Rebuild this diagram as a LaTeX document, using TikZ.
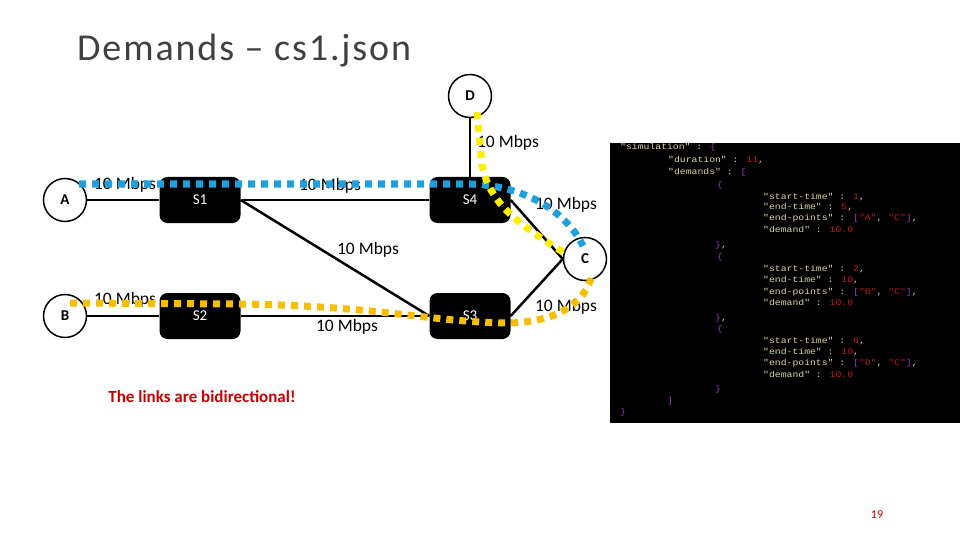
\documentclass[tikz,border=0pt]{standalone}
\usepackage{fontspec}
\setmainfont{Carlito}
\newfontfamily\codefont[FakeStretch=1.15]{Liberation Mono}
\newfontfamily\titlefont[LetterSpace=5]{Carlito}
\usepackage{tikz}
\usetikzlibrary{arrows.meta, calc}

\definecolor{linkblue}{RGB}{30,160,220}
\definecolor{linkyellow}{RGB}{255,238,0}
\definecolor{linkorange}{RGB}{245,190,0}
\definecolor{keycol}{RGB}{222,214,160}
\definecolor{numcol}{RGB}{190,30,30}
\definecolor{brcol}{RGB}{150,60,190}
\definecolor{slidered}{RGB}{200,0,0}

\newcommand{\jk}[1]{\textcolor{keycol}{#1}}
\newcommand{\jn}[1]{\textcolor{numcol}{#1}}
\newcommand{\jb}[1]{\textcolor{brcol}{#1}}

\tikzset{
	host/.style={circle, draw, line width=1.5pt, minimum size=43pt, inner sep=0pt, font=\fontsize{15}{18}\selectfont\bfseries},
	switch/.style={rectangle, rounded corners=8pt, fill=black, minimum width=81pt, minimum height=46pt, text=white, font=\fontsize{15}{18}\selectfont},
	wire/.style={line width=2.5pt},
	rate/.style={font=\fontsize{17.5}{20}\selectfont, inner sep=0pt},
	demand/.style={line width=7pt, dash pattern=on 7pt off 6pt},
	codeline/.style={anchor=base west, inner sep=0pt, font=\codefont\fontsize{8.5}{10}\selectfont, text=keycol}
}

\begin{document}
\begin{tikzpicture}[x=1pt, y=-1pt]
		
		\useasboundingbox (0,0) rectangle (960,540);
		
		% title
		\node[anchor=base west, inner sep=0pt, text=black!75, font=\titlefont\fontsize{38}{42}\selectfont] (title) at (77, 61) {Demands – cs1.json};
		
		% hosts
		\node[host] (A) at (65, 200) {A};
		\node[host] (B) at (65, 316) {B};
		\node[host] (C) at (585, 259) {C};
		\node[host] (D) at (470, 96) {D};
		
		% switches
		\node[switch] (S1) at (200, 200) {S1};
		\node[switch] (S2) at (200, 316) {S2};
		\node[switch] (S3) at (470, 316) {S3};
		\node[switch] (S4) at (470, 200) {S4};
		
		% links
		\draw[wire] (A) -- (S1);
		\draw[wire] (B) -- (S2);
		\draw[wire] (S1) -- (S4);
		\draw[wire] (S2) -- (S3);
		\draw[wire] (S1.east) -- (S3.west);
		\draw[wire] (D) -- (S4);
		\draw[wire] (S4.east) -- (C.west);
		\draw[wire] (S3.east) -- (C.west);
		
		% link capacities
		\node[rate] (rAS1) at (125, 185) {10 Mbps};
		\node[rate] (rBS2) at (125, 300) {10 Mbps};
		\node[rate] (rS1S4) at (330, 186) {10 Mbps};
		\node[rate] (rS1S3) at (368, 250) {10 Mbps};
		\node[rate] (rS2S3) at (347, 327) {10 Mbps};
		\node[rate] (rDS4) at (508, 143) {10 Mbps};
		\node[rate] (rS4C) at (566, 205) {10 Mbps};
		\node[rate] (rS3C) at (566, 307) {10 Mbps};
		
		% demand paths
		\coordinate (pA) at (79, 184);
		\coordinate (pB) at (70, 303);
		\coordinate (pD) at (477, 112);
		\coordinate (pC1) at (583, 246);
		\coordinate (pC2) at (566, 254);
		\coordinate (pC3) at (592, 275);
		\begin{scope}[demand]
			% A -> C
			\draw[linkblue] (pA) -- (470, 184) .. controls (530, 186) and (568, 215) .. (pC1);
			% D -> C
			\draw[linkyellow] (pD) -- (482, 165) .. controls (490, 205) and (520, 225) .. (pC2);
			% B -> C
			\draw[linkorange] (pB) -- (240, 304) .. controls (380, 306) and (430, 322) .. (508, 323) .. controls (562, 322) and (586, 300) .. (pC3);
		\end{scope}
		
		\node[text=slidered, font=\fontsize{17}{20}\selectfont\bfseries] (note) at (202, 397) {The links are bidirectional!};
		
		% cs1.json
		\fill[black] (610, 143) rectangle (960, 423);
		\node[codeline] (l1) at (620, 150) {"simulation" : \jb{\{}};
		\node[codeline] (l2) at (668, 163) {"duration" : \jn{11},};
		\node[codeline] (l3) at (668, 175) {"demands" : \jb{[}};
		\node[codeline] (l4) at (717, 187) {\jb{\{}};
		\node[codeline] (l5) at (763, 199) {"start-time" : \jn{1},};
		\node[codeline] (l6) at (763, 209) {"end-time" : \jn{5},};
		\node[codeline] (l7) at (763, 220) {"end-points" : \jb{[}\jn{"A"}, \jn{"C"}\jb{]},};
		\node[codeline] (l8) at (763, 232) {"demand" : \jn{10.0}};
		\node[codeline] (l9) at (715, 247) {\jb{\}},};
		\node[codeline] (l10) at (717, 259) {\jb{\{}};
		\node[codeline] (l11) at (763, 271) {"start-time" : \jn{2},};
		\node[codeline] (l12) at (763, 282) {"end-time" : \jn{10},};
		\node[codeline] (l13) at (763, 294) {"end-points" : \jb{[}\jn{"B"}, \jn{"C"}\jb{]},};
		\node[codeline] (l14) at (763, 305) {"demand" : \jn{10.0}};
		\node[codeline] (l15) at (715, 320) {\jb{\}},};
		\node[codeline] (l16) at (717, 331) {\jb{\{}};
		\node[codeline] (l17) at (763, 343) {"start-time" : \jn{6},};
		\node[codeline] (l18) at (763, 354) {"end-time" : \jn{10},};
		\node[codeline] (l19) at (763, 365) {"end-points" : \jb{[}\jn{"D"}, \jn{"C"}\jb{]},};
		\node[codeline] (l20) at (763, 377) {"demand" : \jn{10.0}};
		\node[codeline] (l21) at (715, 391) {\jb{\}}};
		\node[codeline] (l22) at (667, 403) {\jb{]}};
		\node[codeline] (l23) at (620, 414) {\jb{\}}};
		
		% slide number
		\node[text=slidered, font=\fontsize{12}{14}\selectfont] (page) at (877, 515) {19};
		
	\end{tikzpicture}
\end{document}
